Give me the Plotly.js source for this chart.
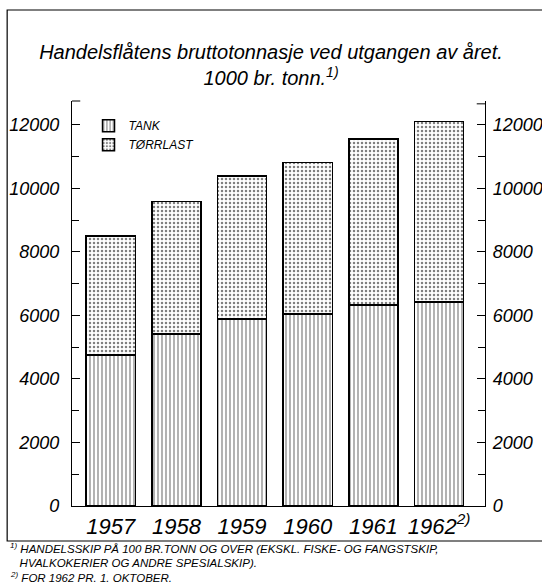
<!DOCTYPE html>
<html>
<head>
<meta charset="utf-8">
<script src="https://cdn.plot.ly/plotly-3.0.1.min.js"></script>
<style>html,body{margin:0;padding:0;background:#fff;}#chart{width:542px;height:586px;}</style>
</head>
<body>
<div id="chart"></div>
<script>
const years = ['1957', '1958', '1959', '1960', '1961', '1962'];
const yearLabels = ['1957', '1958', '1959', '1960', '1961', '1962<sup>2)</sup>'];
const tankValues = [4750, 5420, 5890, 6050, 6330, 6430];
const dryValues = [3750, 4160, 4500, 4760, 5230, 5670];
const seriesNames = ['TANK', 'TØRRLAST'];
const yTickVals = [0, 2000, 4000, 6000, 8000, 10000, 12000];
const yTickText = ['0', '2000', '4000', '6000', '8000', '10000', '12000'];
const titleLines = ['Handelsflåtens bruttotonnasje ved utgangen av året.', '1000 br. tonn.<sup>1)</sup>'];
const footnotes = [
  '<sup>1)</sup> HANDELSSKIP PÅ 100 BR.TONN OG OVER (EKSKL. FISKE- OG FANGSTSKIP,',
  '   HVALKOKERIER OG ANDRE SPESIALSKIP).',
  '<sup>2)</sup> FOR 1962 PR. 1. OKTOBER.'
];

const FONT = 'Liberation Sans, Arial, sans-serif';
const ital = (size) => ({family: FONT, size: size, color: '#000', style: 'italic'});

const traces = [
  {
    type: 'bar', x: years, y: tankValues, name: seriesNames[0],
    width: 0.75,
    marker: {color: '#fff', line: {color: '#000', width: 1.5},
      pattern: {shape: '|', size: 4, solidity: 0.3, fgcolor: '#000', bgcolor: '#fff', fillmode: 'overlay'}},
    hoverinfo: 'skip'
  },
  {
    type: 'bar', x: years, y: dryValues, name: seriesNames[1],
    width: 0.75,
    marker: {color: '#fff', line: {color: '#000', width: 1.5},
      pattern: {shape: '.', size: 4, solidity: 0.3, fgcolor: '#000', bgcolor: '#fff', fillmode: 'overlay'}},
    hoverinfo: 'skip'
  },
  {
    // invisible companion so the right-hand axis is drawn
    type: 'scatter', mode: 'markers', x: years, y: tankValues, yaxis: 'y2',
    marker: {opacity: 0, size: 1}, showlegend: false, hoverinfo: 'skip'
  }
];

const yTop = 12750;
const commonY = {
  range: [0, yTop], autorange: false, tickvals: yTickVals, ticktext: yTickText,
  ticks: 'inside', ticklen: 8, tickcolor: '#000', tickwidth: 1,
  minor: {ticks: 'inside', dtick: 1000, tick0: 0, ticklen: 7, tickcolor: '#000'},
  showline: true, linecolor: '#000', linewidth: 1.2,
  showgrid: false, zeroline: false, tickfont: ital(18), fixedrange: true
};

const layout = {
  width: 542, height: 586,
  margin: {l: 72, r: 57, t: 101, b: 80},
  paper_bgcolor: '#fff', plot_bgcolor: '#fff',
  barmode: 'stack',
  showlegend: true,
  legend: {x: 0.04, y: 0.975, xanchor: 'left', yanchor: 'top', traceorder: 'normal',
    bgcolor: 'rgba(0,0,0,0)', font: ital(12), itemwidth: 30, tracegroupgap: 4},
  title: {text: titleLines.join('<br>'), font: ital(20), x: 0.5, xref: 'container',
    y: 1 - 59 / 586, yref: 'container', yanchor: 'middle'},
  xaxis: {
    type: 'category', range: [-0.59, 5.70], tickvals: years, ticktext: yearLabels,
    ticks: '', showline: true, linecolor: '#000', linewidth: 1.2,
    showgrid: false, zeroline: false, tickfont: ital(22), fixedrange: true
  },
  yaxis: Object.assign({}, commonY, {side: 'left', ticklabelstandoff: 8}),
  yaxis2: Object.assign({}, commonY, {side: 'right', overlaying: 'y', anchor: 'x', ticklabelstandoff: 3}),
  shapes: [
    {type: 'rect', xref: 'paper', yref: 'paper', x0: -0.157, x1: 1.25, y0: -0.0864, y1: 1.2247,
      line: {color: '#000', width: 1.2}, fillcolor: 'rgba(0,0,0,0)'},
    {type: 'line', xref: 'paper', yref: 'paper', x0: 0, x1: 0.02, y0: 1, y1: 1, line: {color: '#000', width: 1}},
    {type: 'line', xref: 'paper', yref: 'paper', x0: 0.98, x1: 1, y0: 0.993, y1: 0.993, line: {color: '#000', width: 1}}
  ],
  annotations: footnotes.map((t, i) => ({
    text: t, xref: 'paper', yref: 'paper', x: -0.155, xanchor: 'left',
    y: -0.104 - i * 0.036, yanchor: 'middle', showarrow: false, font: ital(11.5), align: 'left'
  }))
};

Plotly.newPlot('chart', traces, layout, {displayModeBar: false, staticPlot: true});
</script>
</body>
</html>
